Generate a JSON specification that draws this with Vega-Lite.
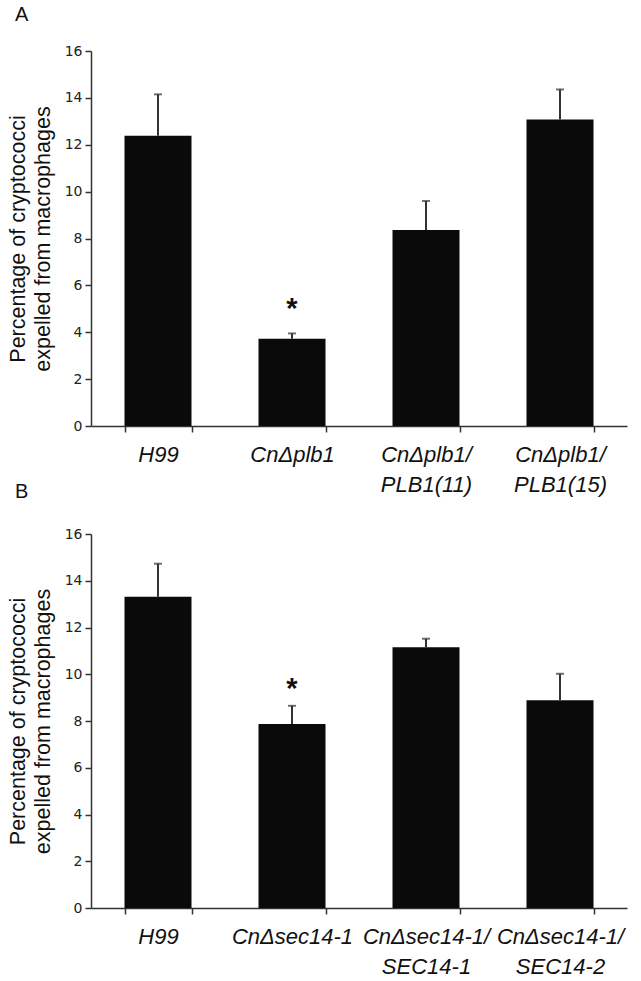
{
  "$schema": "https://vega.github.io/schema/vega-lite/v6.json",
  "background": "white",
  "padding": {"left": 7, "top": 5, "right": 5, "bottom": 2},
  "bounds": "flush",
  "spacing": 108,
  "datasets": {
    "bars": [
      {"panel": "A", "strain": "H99", "mean": 12.38, "upper": 14.15, "sig": ""},
      {"panel": "A", "strain": "CnΔplb1", "mean": 3.72, "upper": 3.95, "sig": "*"},
      {"panel": "A", "strain": "CnΔplb1/PLB1(11)", "mean": 8.36, "upper": 9.6, "sig": ""},
      {"panel": "A", "strain": "CnΔplb1/PLB1(15)", "mean": 13.08, "upper": 14.36, "sig": ""},
      {"panel": "B", "strain": "H99", "mean": 13.32, "upper": 14.73, "sig": ""},
      {"panel": "B", "strain": "CnΔsec14-1", "mean": 7.87, "upper": 8.65, "sig": "*"},
      {"panel": "B", "strain": "CnΔsec14-1/SEC14-1", "mean": 11.15, "upper": 11.52, "sig": ""},
      {"panel": "B", "strain": "CnΔsec14-1/SEC14-2", "mean": 8.89, "upper": 10.02, "sig": ""}
    ]
  },
  "config": {
    "view": {"stroke": null},
    "axis": {"domainColor": "#333333", "domainWidth": 1.5, "tickColor": "#333333", "tickWidth": 1.5, "tickSize": 6, "grid": false},
    "axisY": {"labelFont": "DejaVu Sans", "labelFontSize": 14, "labelColor": "#222222", "labelPadding": 3, "titleFont": "Liberation Sans", "titleFontSize": 21.5, "titleFontWeight": "normal", "titleColor": "#111111", "titleLineHeight": 25, "titlePadding": 10},
    "axisX": {"labelFont": "Liberation Sans", "labelFontStyle": "italic", "labelFontSize": 22, "labelLineHeight": 30, "labelColor": "#111111", "labelPadding": 12, "labelAngle": 0, "labelLimit": 0, "tickBand": "extent"},
    "title": {"font": "Liberation Sans", "fontSize": 20, "fontWeight": "normal", "color": "#111111", "anchor": "start", "frame": "group"}
  },
  "vconcat": [
    {
      "title": {"text": "A", "dx": -76, "offset": 19},
      "width": 536,
      "height": 375,
      "data": {"name": "bars"},
      "transform": [{"filter": "datum.panel == 'A'"}],
      "encoding": {
        "x": {
          "field": "strain", "type": "nominal",
          "sort": ["H99", "CnΔplb1", "CnΔplb1/PLB1(11)", "CnΔplb1/PLB1(15)"],
          "scale": {"paddingInner": 0.5, "paddingOuter": 0.25},
          "axis": {"title": null, "labelExpr": "indexof(datum.label, '/') > 0 ? [slice(datum.label, 0, indexof(datum.label, '/') + 1), slice(datum.label, indexof(datum.label, '/') + 1)] : datum.label"}
        }
      },
      "layer": [
        {
          "mark": {"type": "bar", "color": "#0a0a0a"},
          "encoding": {
            "y": {
              "field": "mean", "type": "quantitative",
              "scale": {"domain": [0, 16], "nice": false},
              "axis": {"values": [0, 2, 4, 6, 8, 10, 12, 14, 16], "title": ["Percentage of cryptococci", "expelled from macrophages"]}
            }
          }
        },
        {
          "mark": {"type": "rule", "color": "#333333", "strokeWidth": 2},
          "encoding": {"y": {"field": "mean", "type": "quantitative"}, "y2": {"field": "upper"}}
        },
        {
          "mark": {"type": "tick", "color": "#333333", "thickness": 2, "size": 8},
          "encoding": {"y": {"field": "upper", "type": "quantitative"}}
        },
        {
          "mark": {"type": "text", "font": "Liberation Sans", "fontSize": 29, "fontWeight": "bold", "color": "#111111", "baseline": "alphabetic", "dy": -15},
          "encoding": {"y": {"field": "upper", "type": "quantitative"}, "text": {"field": "sig"}}
        }
      ]
    },
    {
      "title": {"text": "B", "dx": -76, "offset": 25},
      "width": 536,
      "height": 374,
      "data": {"name": "bars"},
      "transform": [{"filter": "datum.panel == 'B'"}],
      "encoding": {
        "x": {
          "field": "strain", "type": "nominal",
          "sort": ["H99", "CnΔsec14-1", "CnΔsec14-1/SEC14-1", "CnΔsec14-1/SEC14-2"],
          "scale": {"paddingInner": 0.5, "paddingOuter": 0.25},
          "axis": {"title": null, "labelExpr": "indexof(datum.label, '/') > 0 ? [slice(datum.label, 0, indexof(datum.label, '/') + 1), slice(datum.label, indexof(datum.label, '/') + 1)] : datum.label"}
        }
      },
      "layer": [
        {
          "mark": {"type": "bar", "color": "#0a0a0a"},
          "encoding": {
            "y": {
              "field": "mean", "type": "quantitative",
              "scale": {"domain": [0, 16], "nice": false},
              "axis": {"values": [0, 2, 4, 6, 8, 10, 12, 14, 16], "title": ["Percentage of cryptococci", "expelled from macrophages"]}
            }
          }
        },
        {
          "mark": {"type": "rule", "color": "#333333", "strokeWidth": 2},
          "encoding": {"y": {"field": "mean", "type": "quantitative"}, "y2": {"field": "upper"}}
        },
        {
          "mark": {"type": "tick", "color": "#333333", "thickness": 2, "size": 8},
          "encoding": {"y": {"field": "upper", "type": "quantitative"}}
        },
        {
          "mark": {"type": "text", "font": "Liberation Sans", "fontSize": 29, "fontWeight": "bold", "color": "#111111", "baseline": "alphabetic", "dy": -8},
          "encoding": {"y": {"field": "upper", "type": "quantitative"}, "text": {"field": "sig"}}
        }
      ]
    }
  ]
}
